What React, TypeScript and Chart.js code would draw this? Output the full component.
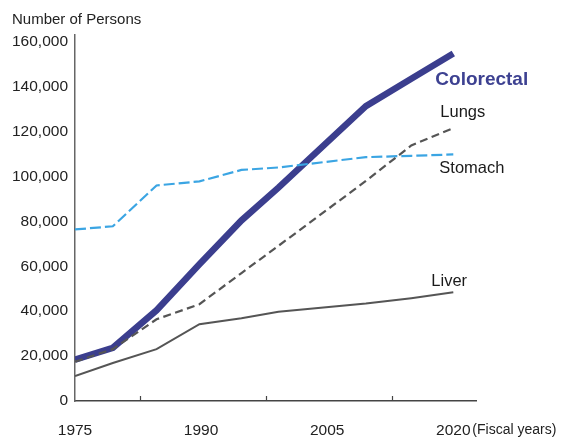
import React, { useEffect, useRef } from "react";
import { Chart, registerables } from "chart.js";

Chart.register(...registerables);

// ---- Data ----
const years = [1975, 1979.5, 1984.7, 1989.8, 1994.8, 1999.2, 2009.6, 2015, 2020];
const colorectal = [18400, 23700, 40400, 60900, 80400, 95000, 131300, 143500, 154800];
const lungs = [17500, 23100, 36400, 43100, 57000, 69100, 98000, 113800, 121500];
const stomach = [76400, 77800, 96000, 97800, 102900, 104000, 108600, 109200, 109800];
const liver = [11100, 16900, 23100, 34200, 36900, 39700, 43400, 45800, 48400];

const xLabelYears = [1975, 1990, 2005, 2020];
const xTickMarkYears = [1982.7, 1997.7, 2012.7];
const yTickValues = [0, 20000, 40000, 60000, 80000, 100000, 120000, 140000, 160000];

const X_MIN = 1975;
const X_MAX = 2022.7;
const Y_MIN = 0;
const Y_MAX = 163000;

const FONT = "'Liberation Sans', Arial, Helvetica, sans-serif";

const seriesLabels = [
  { text: "Colorectal", series: colorectal, dx: -18, dy: 26, bold: true, color: "#3d4191", size: 19 },
  { text: "Lungs", series: lungs, dx: -13, dy: -16, bold: false, color: "#1a1a1a", size: 16.5 },
  { text: "Stomach", series: stomach, dx: -14, dy: 14, bold: false, color: "#1a1a1a", size: 16.5 },
  { text: "Liver", series: liver, dx: -22, dy: -11, bold: false, color: "#1a1a1a", size: 16.5 },
];

export default function App() {
  const ref = useRef<HTMLCanvasElement>(null);

  useEffect(() => {
    if (!ref.current) return;
    const toPts = (vals: number[]) => years.map((yr, i) => ({ x: yr, y: vals[i] }));

    const annot = {
      id: "annot",
      afterDraw(chart: any) {
        const { ctx } = chart;
        const xs = chart.scales.x;
        const ys = chart.scales.y;
        ctx.save();
        // small inward tick marks on the x axis
        ctx.strokeStyle = "#444";
        ctx.lineWidth = 1.2;
        const base = ys.getPixelForValue(0);
        xTickMarkYears.forEach((v) => {
          const px = Math.round(xs.getPixelForValue(v)) + 0.5;
          ctx.beginPath();
          ctx.moveTo(px, base);
          ctx.lineTo(px, base - 5);
          ctx.stroke();
        });
        // axis titles
        ctx.fillStyle = "#222";
        ctx.textBaseline = "middle";
        ctx.textAlign = "left";
        ctx.font = `15px ${FONT}`;
        ctx.fillText("Number of Persons", 12, 20);
        ctx.font = `14px ${FONT}`;
        ctx.fillText("(Fiscal years)", xs.getPixelForValue(2020) + 19, 430);
        // series labels
        seriesLabels.forEach((l) => {
          const last = l.series.length - 1;
          const px = xs.getPixelForValue(years[last]) + l.dx;
          const py = ys.getPixelForValue(l.series[last]) + l.dy;
          ctx.font = `${l.bold ? "bold " : ""}${l.size}px ${FONT}`;
          ctx.fillStyle = l.color;
          ctx.fillText(l.text, px, py);
        });
        ctx.restore();
      },
    };

    const chart = new Chart(ref.current, {
      type: "line",
      data: {
        datasets: [
          {
            label: "Colorectal",
            data: toPts(colorectal),
            borderColor: "#3b3e8e",
            borderWidth: 6.5,
            pointRadius: 0,
            tension: 0,
            order: 4,
          },
          {
            label: "Stomach",
            data: toPts(stomach),
            borderColor: "#3ba5e3",
            borderWidth: 2.2,
            borderDash: [11, 4],
            pointRadius: 0,
            tension: 0,
            order: 3,
          },
          {
            label: "Lungs",
            data: toPts(lungs),
            borderColor: "#555555",
            borderWidth: 2.2,
            borderDash: [8, 4.5],
            pointRadius: 0,
            tension: 0,
            order: 2,
          },
          {
            label: "Liver",
            data: toPts(liver),
            borderColor: "#555555",
            borderWidth: 2,
            pointRadius: 0,
            tension: 0,
            order: 1,
          },
        ],
      },
      options: {
        animation: false,
        responsive: true,
        maintainAspectRatio: false,
        layout: { padding: { top: 35, right: 97, bottom: 0, left: 0 } },
        plugins: { legend: { display: false }, tooltip: { enabled: false } },
        scales: {
          x: {
            type: "linear",
            min: X_MIN,
            max: X_MAX,
            grid: { display: false, drawTicks: false },
            border: { display: true, color: "#444", width: 1.5 },
            ticks: {
              font: { family: FONT, size: 15.5 },
              color: "#222",
              padding: 20,
              autoSkip: false,
              maxRotation: 0,
              callback: (v: any) => String(v),
            },
            afterBuildTicks: (s: any) => {
              s.ticks = xLabelYears.map((v) => ({ value: v }));
            },
            afterFit: (s: any) => {
              s.height = 36;
            },
          },
          y: {
            type: "linear",
            min: Y_MIN,
            max: Y_MAX,
            grid: { display: false, drawTicks: false },
            border: { display: true, color: "#666", width: 1.5 },
            ticks: {
              font: { family: FONT, size: 15.5 },
              color: "#222",
              padding: 7,
              callback: (v: any) => Number(v).toLocaleString("en-US"),
            },
            afterBuildTicks: (s: any) => {
              s.ticks = yTickValues.map((v) => ({ value: v }));
            },
            afterFit: (s: any) => {
              s.width = 75;
            },
          },
        },
      },
      plugins: [annot],
    });
    return () => chart.destroy();
  }, []);

  return (
    <div style={{ position: "fixed", left: 0, top: 0, width: 573, height: 437 }}>
      <canvas ref={ref} />
    </div>
  );
}
